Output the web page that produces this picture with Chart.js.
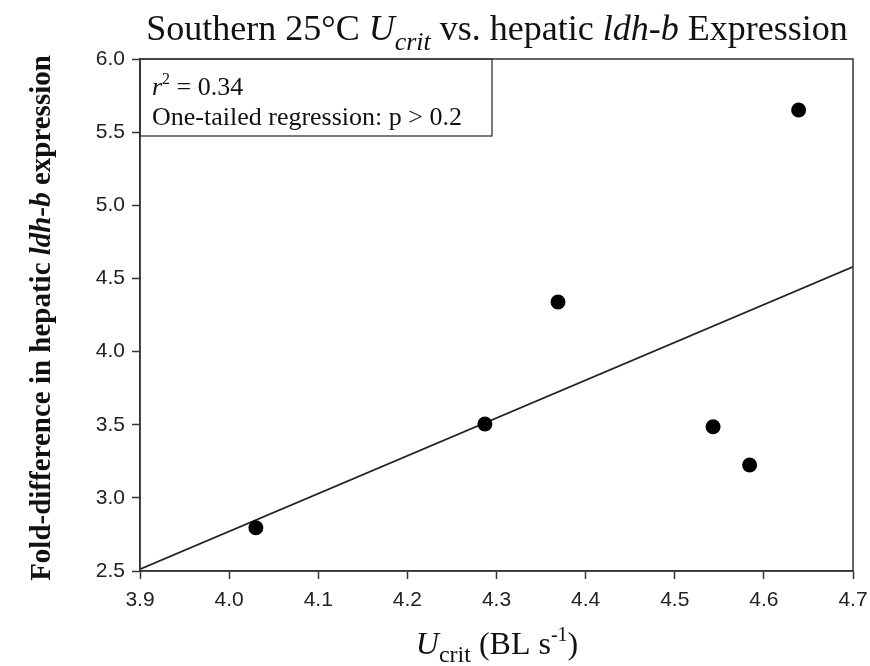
<!DOCTYPE html>
<html>
<head>
<meta charset="utf-8">
<script src="https://cdn.jsdelivr.net/npm/chart.js@4.4.0/dist/chart.umd.min.js"></script>
<style>
html,body{margin:0;padding:0;background:#fff;}
#wrap{width:870px;height:666px;position:relative;}
</style>
</head>
<body>
<div id="wrap"><canvas id="c" width="870" height="666"></canvas></div>
<script>
// Data
const uCrit = [4.030, 4.287, 4.369, 4.543, 4.584, 4.639];
const ldhB  = [2.796, 3.505, 4.339, 3.486, 3.225, 5.651];
const fitX = [3.9, 4.7];
const fitY = [2.512, 4.580];
const xTicks = [3.9, 4.0, 4.1, 4.2, 4.3, 4.4, 4.5, 4.6, 4.7];
const yTicks = [2.5, 3.0, 3.5, 4.0, 4.5, 5.0, 5.5, 6.0];
const rSquared = "0.34";
const pText = "One-tailed regression: p > 0.2";

const SERIF = '"Liberation Serif", "Times New Roman", serif';
const SANS = '"Liberation Sans", Arial, sans-serif';

function drawRich(ctx, segs, x, y, align) {
  let total = 0;
  segs.forEach(s => { ctx.font = s.font; s.w = ctx.measureText(s.text).width; total += s.w; });
  let cx = align === 'center' ? x - total / 2 : x;
  ctx.textBaseline = 'alphabetic';
  ctx.textAlign = 'left';
  segs.forEach(s => { ctx.font = s.font; ctx.fillText(s.text, cx, y + (s.dy || 0)); cx += s.w; });
}

const decor = {
  id: 'decor',
  afterDraw(chart) {
    const ctx = chart.ctx, a = chart.chartArea;
    ctx.save();
    ctx.strokeStyle = '#333';
    ctx.lineWidth = 1.5;
    ctx.strokeRect(a.left, a.top, a.right - a.left, a.bottom - a.top);
    // annotation box
    const bx = a.left, by = a.top, bw = 352, bh = 77;
    ctx.lineWidth = 1.3;
    ctx.strokeRect(bx, by, bw, bh);
    ctx.fillStyle = '#111';
    const f = 26;
    drawRich(ctx, [
      {text: 'r', font: `italic ${f}px ${SERIF}`},
      {text: '2', font: `${Math.round(f*0.62)}px ${SERIF}`, dy: -11},
      {text: ' = ' + rSquared, font: `${f}px ${SERIF}`}
    ], bx + 12, by + 36, 'left');
    drawRich(ctx, [{text: pText, font: `${f}px ${SERIF}`}], bx + 12, by + 66, 'left');

    // title
    const tf = 36;
    drawRich(ctx, [
      {text: 'Southern 25°C ', font: `${tf}px ${SERIF}`},
      {text: 'U', font: `italic ${tf}px ${SERIF}`},
      {text: 'crit', font: `italic ${Math.round(tf*0.72)}px ${SERIF}`, dy: 10},
      {text: ' vs. hepatic ', font: `${tf}px ${SERIF}`},
      {text: 'ldh-b', font: `italic ${tf}px ${SERIF}`},
      {text: ' Expression', font: `${tf}px ${SERIF}`}
    ], 497, 40, 'center');

    // x title
    const xf = 32;
    drawRich(ctx, [
      {text: 'U', font: `italic ${xf}px ${SERIF}`},
      {text: 'crit', font: `${Math.round(xf*0.74)}px ${SERIF}`, dy: 8},
      {text: ' (BL s', font: `${xf}px ${SERIF}`},
      {text: '-1', font: `${Math.round(xf*0.64)}px ${SERIF}`, dy: -13},
      {text: ')', font: `${xf}px ${SERIF}`}
    ], 497, 654, 'center');

    // y title
    ctx.translate(50, 318);
    ctx.rotate(-Math.PI / 2);
    const yf = 29;
    drawRich(ctx, [
      {text: 'Fold-difference in hepatic ', font: `bold ${yf}px ${SERIF}`},
      {text: 'ldh-b', font: `bold italic ${yf}px ${SERIF}`},
      {text: ' expression', font: `bold ${yf}px ${SERIF}`}
    ], 0, 0, 'center');
    ctx.restore();
  }
};

const tickFont = {family: SANS, size: 21};

new Chart(document.getElementById('c'), {
  type: 'scatter',
  data: {
    datasets: [
      {
        type: 'line',
        data: fitX.map((x, i) => ({x, y: fitY[i]})),
        borderColor: '#222',
        borderWidth: 1.8,
        pointRadius: 0,
        fill: false,
        order: 2
      },
      {
        data: uCrit.map((x, i) => ({x, y: ldhB[i]})),
        backgroundColor: '#000',
        borderWidth: 0,
        pointRadius: 7.5,
        order: 1
      }
    ]
  },
  options: {
    responsive: false,
    animation: false,
    devicePixelRatio: 1,
    layout: {padding: {top: 59, right: 17, left: 0, bottom: 0}},
    plugins: {legend: {display: false}, tooltip: {enabled: false}, title: {display: false}},
    scales: {
      x: {
        type: 'linear', min: 3.9, max: 4.7,
        afterBuildTicks: s => { s.ticks = xTicks.map(v => ({value: v})); },
        afterFit: s => { s.height = 95; s.paddingLeft = 0; s.paddingRight = 0; },
        ticks: {font: tickFont, color: '#222', padding: 9, maxRotation: 0, callback: v => Number(v).toFixed(1)},
        grid: {drawOnChartArea: false, drawTicks: true, tickLength: 8, tickColor: '#333', tickWidth: 1.5},
        border: {display: true, color: '#333', width: 1.5}
      },
      y: {
        type: 'linear', min: 2.5, max: 6.0,
        afterBuildTicks: s => { s.ticks = yTicks.map(v => ({value: v})); },
        afterFit: s => { s.width = 140; s.paddingTop = 0; s.paddingBottom = 0; },
        ticks: {font: tickFont, color: '#222', padding: 7, callback: v => Number(v).toFixed(1)},
        grid: {drawOnChartArea: false, drawTicks: true, tickLength: 8, tickColor: '#333', tickWidth: 1.5},
        border: {display: true, color: '#333', width: 1.5}
      }
    }
  },
  plugins: [decor]
});
</script>
</body>
</html>
